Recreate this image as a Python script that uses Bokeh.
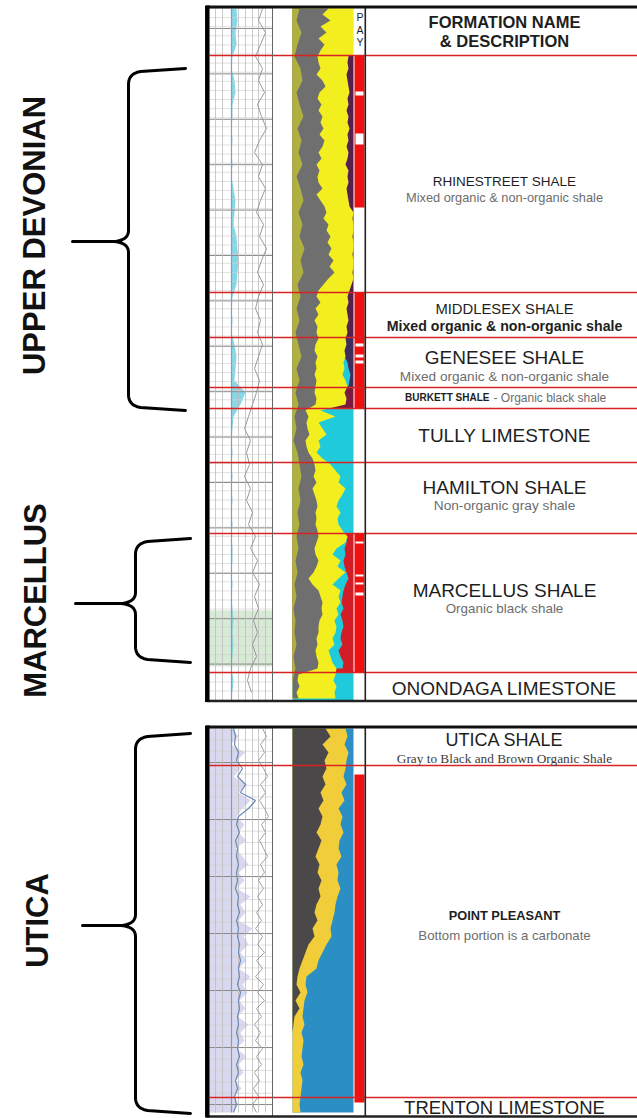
import numpy as np
from bokeh.plotting import figure
from bokeh.models import Range1d
from bokeh.core.properties import value
from bokeh.embed import file_html
from bokeh.resources import INLINE

# ---------------- data (depths in image rows) ----------------
top_tops = [8, 55, 292, 337, 387, 408, 462, 533, 672]
top_bots = [55, 292, 337, 387, 408, 462, 533, 672, 700]
top_band_colors = ["#f2ee1e", "#55204c", "#55204c", "#3e2c5c", "#7a1a40",
                   "#1fcbdb", "#1fcbdb", "#d21c26", "#1fcbdb"]

top_depth = list(range(8, 700, 6))
top_gray_edge = [328, 322, 330, 320, 326, 318, 324, 320,
                 317, 318, 320, 316, 322, 325, 319, 317, 321, 318, 322, 320, 323, 319, 324, 322, 318,
                 321, 316, 319, 317, 318, 322, 316, 320, 324,
                 326, 323, 328, 326, 330, 327, 331, 328, 333, 329, 334, 328, 323, 318,
                 316, 320, 315, 318, 314, 317, 316, 318, 315, 314, 317, 315, 316, 314, 316, 315, 314, 316, 315,
                 305, 308, 306, 307, 309, 305, 306, 308, 312,
                 314, 315, 313, 316, 312, 314, 316, 317, 315, 316, 315, 317,
                 318, 316, 314, 315, 318, 316, 313, 308, 312, 318, 320, 322, 321, 322, 319, 318, 318, 316,
                 317, 315, 316, 318, 317,
                 298, 297, 299, 296, 298]
top_yellow_edge = [353, 352, 353, 353, 352, 353, 353, 352,
                   348, 347, 348, 346, 347, 348, 349, 347, 348, 346, 348, 347, 349, 347, 348, 346, 348,
                   347, 345, 348, 347, 348, 346, 347, 348, 349,
                   353, 352, 353, 353, 352, 353, 353, 352, 353, 353, 352, 353, 351, 349,
                   347, 348, 346, 347, 348, 346, 347, 345, 346, 344, 345, 343, 344, 342, 345, 347, 344, 346, 345,
                   320, 335, 318, 322, 326, 318, 320, 316, 322,
                   330, 335, 340, 338, 345, 342, 338, 336, 340, 337, 338, 342,
                   347, 345, 336, 332, 340, 337, 345, 338, 332, 340, 338, 340, 336, 338, 334, 336, 335, 332,
                   334, 328, 330, 332, 336,
                   335, 333, 336, 334, 335]

olive_depth = list(range(8, 700, 12))
olive_edge = [299, 296, 301, 297, 294, 300, 302, 296, 299, 303, 297, 301, 298, 302, 296, 300, 303, 298,
              302, 299, 304, 300, 303, 297, 300, 296, 299, 295, 298, 301, 296, 299, 295, 298, 294, 296,
              293, 297, 299, 301, 298, 300, 297, 299, 296, 298, 295, 297, 294, 296, 293, 295, 294, 296,
              293, 295, 292, 292]

marc_depth = list(range(536, 670, 6))
marc_cyan_edge = [347, 346, 344, 345, 343, 344, 346, 348, 345, 343, 342, 341, 343, 340, 342, 343,
                  341, 340, 342, 338, 340, 343, 342]
gen_depth = [356, 362, 368, 374, 380, 386]
gen_cyan_edge = [344, 347, 348, 350, 349, 348]

gr_depth = list(range(8, 700, 12))
gr_cyan_edge = [236, 237, 235, 236,
                232, 231, 234, 235, 232, 232, 231, 232, 231, 232, 231, 233, 235, 234, 233, 236, 237, 238,
                237, 236, 232, 231, 232, 231, 234, 236, 235, 234, 245, 240, 233, 232, 231, 232, 231, 232,
                231, 232, 231, 232, 231, 232, 232, 231, 232, 231, 232, 233, 232, 233, 232, 231, 233, 232]
gr_curve = [262, 258, 265, 260, 255, 262, 258, 264, 257, 261, 266, 259, 254, 262, 258, 265, 260, 256,
            263, 259, 266, 261, 257, 263, 258, 255, 260, 257, 262, 258, 254, 259, 256, 252, 248, 244,
            250, 246, 249, 244, 250, 246, 252, 248, 255, 250, 257, 252, 259, 254, 258, 253, 257, 252,
            256, 250, 247, 251]

pay_tops = [55, 292, 533]
pay_bots = [207, 408, 672]
pay_gap_tops = [91, 133, 343, 354, 360, 541, 574, 582, 592]
pay_gap_bots = [95, 144, 346, 357, 363, 543, 576, 584, 595]

top_markers = [55, 292, 337, 387, 408, 462, 533, 672]

low_depth = list(range(728, 1116, 8))
low_gray_edge = [325, 330, 322, 328, 324, 326, 322, 325, 320, 323, 318, 322, 320, 316, 321, 318, 315,
                 319, 317, 321, 318, 320, 316, 314, 317, 312, 314, 308, 305, 302, 299, 297, 296, 300,
                 295, 299, 294, 293, 292, 292, 292, 292, 292, 292, 292, 292, 292, 292, 292]
low_yellow_edge = [345, 347, 344, 348, 346, 345, 343, 346, 341, 344, 338, 342, 340, 343, 339, 338, 341,
                   336, 338, 337, 340, 337, 335, 334, 332, 330, 331, 326, 322, 318, 316, 306, 305, 307,
                   304, 303, 302, 304, 301, 303, 302, 301, 303, 300, 302, 301, 300, 299, 300]
low_lav_edge = [232, 238, 230, 245, 236, 240, 233, 247, 238, 250, 242, 236, 244, 238, 246, 235, 242,
                248, 238, 244, 236, 250, 240, 245, 238, 252, 243, 248, 240, 246, 238, 250, 242, 247,
                239, 245, 237, 248, 240, 244, 236, 246, 238, 243, 235, 241, 234, 238, 232]
low_blue_curve = [233, 235, 234, 238, 236, 242, 237, 245, 240, 255, 248, 238, 236, 239, 235, 237, 236,
                  238, 236, 237, 235, 238, 237, 239, 236, 238, 237, 239, 238, 240, 238, 239, 237, 240,
                  238, 239, 237, 238, 236, 238, 237, 239, 236, 238, 235, 237, 234, 236, 233]
low_gray_curve = [262, 266, 260, 264, 258, 263, 267, 260, 265, 259, 264, 268, 261, 265, 259, 263, 267,
                  260, 264, 258, 263, 257, 262, 256, 261, 255, 262, 257, 264, 256, 262, 255, 263, 257,
                  264, 256, 261, 254, 260, 255, 262, 256, 261, 254, 259, 253, 258, 252, 256]
low_pay_top = [774]
low_pay_bot = [1102]
low_markers = [765, 1097]

group_names = ["UPPER DEVONIAN", "MARCELLUS", "UTICA"]
brace_tops = [68, 538, 733]
brace_mids = [241, 603, 925]
brace_bots = [410, 662, 1113]

# ---------------- figure ----------------
p = figure(width=637, height=1118, x_range=Range1d(0, 637), y_range=Range1d(1118, 0),
           output_backend="svg", toolbar_location=None, min_border=0,
           x_axis_location=None, y_axis_location=None)
p.grid.visible = False
p.outline_line_color = None
p.background_fill_color = "white"
p.border_fill_color = "white"

FONT = value("Liberation Sans")
GR_L, GR_R = 209, 272
LI_L, LI_R = 292, 353
PAY_L, PAY_R = 354, 364

# ---- GR tracks ----
p.quad(left=[GR_L], right=[GR_R], top=[610], bottom=[666], fill_color="#d6ead6", line_color=None)
p.harea(y=gr_depth, x1=231, x2=gr_cyan_edge, fill_color="#86d8e8")
p.harea(y=low_depth, x1=GR_L, x2=low_lav_edge, fill_color="#d9d8ee")

def gr_grid(y0, y1, minor, major, major0):
    ys = np.arange(y0, y1, minor)
    p.segment(x0=[GR_L] * len(ys), x1=[GR_R] * len(ys), y0=ys, y1=ys, line_color="#d2d2d2", line_width=0.7)
    ys = np.arange(major0, y1, major)
    p.segment(x0=[GR_L] * len(ys), x1=[GR_R] * len(ys), y0=ys, y1=ys, line_color="#8c8c8c", line_width=1)
    xs = [215, 222, 238, 245, 252, 258, 265]
    p.segment(x0=xs, x1=xs, y0=[y0] * len(xs), y1=[y1] * len(xs), line_color="#bdbdbd", line_width=0.8)
    p.segment(x0=[231], x1=[231], y0=[y0], y1=[y1], line_color="#8a9abb", line_width=1.2)

gr_grid(8, 700, 9.1, 45.4, 28)
gr_grid(728, 1112, 11.4, 57, 762)
p.line(gr_curve, gr_depth, line_color="#8e8e8e", line_width=0.9)
p.line(low_blue_curve, low_depth, line_color="#6c8cb8", line_width=1.2)
p.line(low_gray_curve, low_depth, line_color="#959595", line_width=0.9)

# ---- lithology (top) ----
p.quad(left=[LI_L] * len(top_tops), right=[LI_R] * len(top_tops), top=top_tops, bottom=top_bots,
       fill_color=top_band_colors, line_color=None)
p.harea(y=marc_depth, x1=325, x2=marc_cyan_edge, fill_color="#1fcbdb")
p.harea(y=gen_depth, x1=325, x2=gen_cyan_edge, fill_color="#1fcbdb")
p.harea(y=top_depth, x1=LI_L, x2=top_yellow_edge, fill_color="#f3ef1f")
p.harea(y=top_depth, x1=LI_L, x2=top_gray_edge, fill_color="#6f6f6f")
p.harea(y=olive_depth, x1=LI_L, x2=olive_edge, fill_color="#b0b040")

# ---- lithology (bottom) ----
p.quad(left=[LI_L], right=[LI_R], top=[728], bottom=[1112], fill_color="#2b8fc4", line_color=None)
p.harea(y=low_depth, x1=LI_L, x2=low_yellow_edge, fill_color="#f2cd3a")
p.harea(y=low_depth, x1=LI_L, x2=low_gray_edge, fill_color="#4a4848")

# ---- pay column ----
p.quad(left=[PAY_L] * 3, right=[PAY_R] * 3, top=pay_tops, bottom=pay_bots, fill_color="#f01010", line_color=None)
p.quad(left=[PAY_L + 1] * len(pay_gap_tops), right=[PAY_R - 1] * len(pay_gap_tops),
       top=pay_gap_tops, bottom=pay_gap_bots, fill_color="white", line_color=None)
p.quad(left=[PAY_L], right=[PAY_R], top=low_pay_top, bottom=low_pay_bot, fill_color="#f01010", line_color=None)

# ---- marker lines ----
p.segment(x0=[GR_L] * len(top_markers), x1=[640] * len(top_markers), y0=top_markers, y1=top_markers,
          line_color="#d92323", line_width=1.6)
p.segment(x0=[GR_L] * len(low_markers), x1=[640] * len(low_markers), y0=low_markers, y1=low_markers,
          line_color="#d92323", line_width=1.6)

# ---- panel frames ----
for (yt, yb) in [(6.5, 700.5), (726.5, 1116)]:
    p.segment(x0=[GR_R], x1=[GR_R], y0=[yt], y1=[yb], line_color="#666666", line_width=1)
    p.segment(x0=[364.8], x1=[364.8], y0=[yt], y1=[yb], line_color="#222222", line_width=1.6)
    p.segment(x0=[206], x1=[640], y0=[yt], y1=[yt], line_color="#111111", line_width=3)
    p.segment(x0=[206], x1=[640], y0=[yb], y1=[yb], line_color="#222222", line_width=2.5)
    p.segment(x0=[206.8], x1=[206.8], y0=[yt - 1.5], y1=[yb + 1], line_color="#000000", line_width=4.5)

# ---- texts ----
def txt(x, y, s, size, color="#1e1e1e", style="normal", align="center", font=FONT):
    p.text(x=[x], y=[y], text=[s], text_font=font, text_font_size=size, text_font_style=style,
           text_color=color, text_align=align, text_baseline="middle")

CX = 504
GRAY = "#6d6d6d"
for ch, yy in zip("PAY", [16, 29, 41]):
    txt(359.5, yy, ch, "10.5px")
txt(CX, 21, "FORMATION NAME", "16.5px", style="bold")
txt(CX, 40, "& DESCRIPTION", "16.5px", style="bold")
txt(CX, 181, "RHINESTREET SHALE", "13.5px")
txt(CX, 197, "Mixed organic & non-organic shale", "12.8px", GRAY)
txt(CX, 308, "MIDDLESEX SHALE", "14.8px")
txt(CX, 325, "Mixed organic & non-organic shale", "14.2px", "#1e1e1e", "bold")
txt(CX, 357, "GENESEE SHALE", "19px")
txt(CX, 376, "Mixed organic & non-organic shale", "13.6px", GRAY)
txt(489, 397, "BURKETT SHALE", "10px", "#1e1e1e", "bold", "right")
txt(493, 397, "- Organic black shale", "12px", GRAY, "normal", "left")
txt(CX, 434.5, "TULLY LIMESTONE", "19px")
txt(CX, 487, "HAMILTON SHALE", "19px")
txt(CX, 505, "Non-organic gray shale", "13.7px", GRAY)
txt(CX, 589.5, "MARCELLUS SHALE", "19px")
txt(CX, 608, "Organic black shale", "13.4px", GRAY)
txt(CX, 688, "ONONDAGA LIMESTONE", "19px")
txt(CX, 739, "UTICA SHALE", "18px")
txt(CX, 758, "Gray to Black and Brown Organic Shale", "13.3px", "#3c3c3c", font=value("Liberation Serif"))
txt(CX, 915, "POINT PLEASANT", "12.8px", "#1e1e1e", "bold")
txt(CX, 935, "Bottom portion is a carbonate", "13.2px", GRAY)
txt(CX, 1106.5, "TRENTON LIMESTONE", "18.5px")

# ---- braces & group labels ----
def qpts(p0, c, p1, n=12):
    t = np.linspace(0, 1, n)
    xs = (1 - t) ** 2 * p0[0] + 2 * (1 - t) * t * c[0] + t ** 2 * p1[0]
    ys = (1 - t) ** 2 * p0[1] + 2 * (1 - t) * t * c[1] + t ** 2 * p1[1]
    return list(xs), list(ys)

def brace(xe, xv, xt, yt, ym, yb):
    X, Y = [xe], [yt]
    for seg in [qpts((xv + 12, yt + 3), (xv, yt + 5), (xv, yt + 16)),
                qpts((xv, ym - 11), (xv, ym), (xv - 18, ym)),
                ([xt], [ym]),
                qpts((xv - 18, ym), (xv, ym), (xv, ym + 11)),
                qpts((xv, yb - 16), (xv, yb - 5), (xv + 12, yb - 3)),
                ([xe], [yb])]:
        X += seg[0]
        Y += seg[1]
    p.line(X, Y, line_color="black", line_width=3, line_join="round", line_cap="round")

brace_geom = [(185, 128, 72), (190, 135, 75), (190, 135, 82)]
for (xe, xv, xt), yt, ym, yb in zip(brace_geom, brace_tops, brace_mids, brace_bots):
    brace(xe, xv, xt, yt, ym, yb)

p.text(x=[34, 34.5, 36.5], y=[235, 600, 920], text=group_names, text_font=FONT,
       text_font_size="31px", text_font_style="bold", text_color="#111111",
       angle=np.pi / 2, text_align="center", text_baseline="middle")

open("out.html", "w").write(file_html(p, INLINE))
